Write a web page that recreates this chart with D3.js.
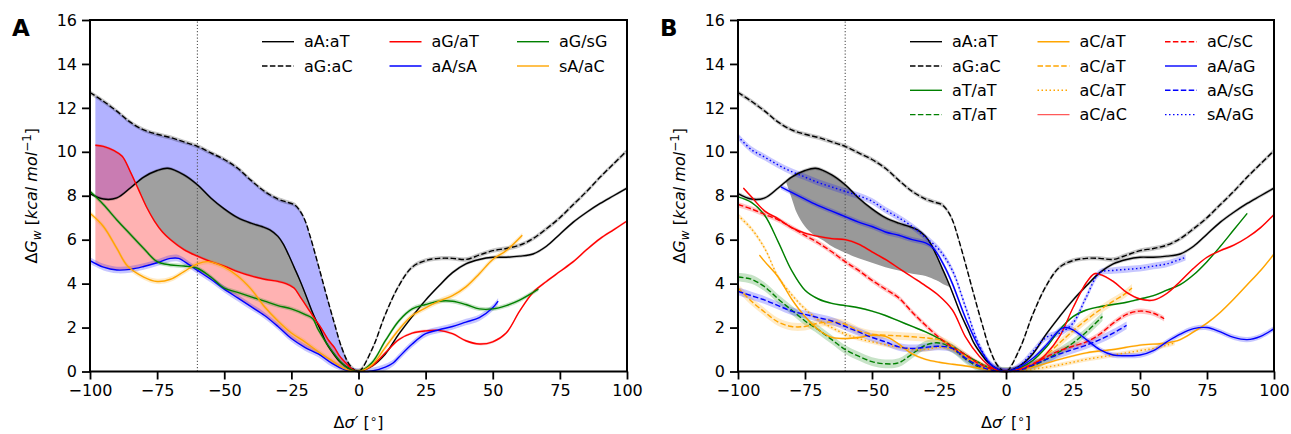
<!DOCTYPE html>
<html>
<head>
<meta charset="utf-8">
<script src="https://cdn.jsdelivr.net/npm/d3@7"></script>
<style>
  body { margin: 0; background: #fff; }
  text { font-family: "DejaVu Sans", sans-serif; fill: #000; }
</style>
</head>
<body>
<div id="output"></div>
<script>
    var width = 1291, height = 434;

    var xTicks = [-100, -75, -50, -25, 0, 25, 50, 75, 100];
    var yTicks = [0, 2, 4, 6, 8, 10, 12, 14, 16];
    var markerX = -60;

    // shared by both panels
    var aAaT = [[-100,8.1],[-95,7.85],[-90,7.9],[-85,8.35],[-80,8.85],[-75,9.15],[-71,9.25],[-65,8.95],[-60,8.5],[-55,7.9],[-50,7.4],[-45,7.0],[-40,6.75],[-36,6.6],[-33,6.45],[-30,6.15],[-28,5.8],[-26,5.3],[-24,4.75],[-22,4.2],[-20,3.6],[-17,2.65],[-14,1.85],[-12,1.3],[-9,0.75],[-7,0.45],[-5,0.25],[-3,0.1],[0,0],[5,0.25],[10,0.8],[15,1.7],[20,2.5],[25,3.25],[30,3.9],[35,4.5],[40,4.9],[45,5.1],[50,5.2],[55,5.2],[60,5.25],[65,5.35],[70,5.7],[75,6.25],[80,6.8],[85,7.25],[90,7.65],[95,8.0],[100,8.35]];
    var aGaC = [[-100,12.7],[-95,12.3],[-90,11.85],[-85,11.35],[-80,11.0],[-75,10.8],[-70,10.65],[-65,10.45],[-60,10.25],[-55,9.95],[-50,9.65],[-45,9.25],[-40,8.7],[-35,8.2],[-30,7.85],[-27,7.72],[-24,7.6],[-22,7.35],[-20,6.9],[-18,6.15],[-15,4.85],[-12,3.5],[-9,2.2],[-6,1.0],[-3,0.25],[0,0],[5,1.0],[10,2.6],[15,3.9],[20,4.75],[25,5.05],[30,5.15],[35,5.15],[40,5.1],[45,5.3],[50,5.5],[55,5.6],[60,5.75],[65,6.05],[70,6.5],[75,7.0],[80,7.6],[85,8.2],[90,8.85],[95,9.45],[100,10.05]];

    // panel A
    var aGaT = [[-98,10.3],[-95,10.25],[-91,10.05],[-88,9.8],[-85,9.1],[-82,8.3],[-79,7.5],[-76,6.85],[-73,6.35],[-70,6.0],[-65,5.55],[-60,5.25],[-55,5.0],[-50,4.8],[-45,4.55],[-40,4.35],[-35,4.2],[-30,4.1],[-27,4.0],[-24,3.8],[-22,3.45],[-19,2.9],[-16,2.35],[-14,2.0],[-11,1.4],[-9,1.1],[-7,0.7],[-4,0.3],[-2,0.08],[0,0],[5,0.25],[10,0.85],[15,1.45],[20,1.75],[25,1.85],[30,1.87],[35,1.72],[40,1.4],[45,1.25],[50,1.35],[55,1.75],[60,2.75],[65,3.6],[70,4.1],[75,4.55],[80,5.0],[85,5.55],[90,6.05],[95,6.45],[100,6.85]];
    var aAsA = [[-100,5.05],[-95,4.75],[-90,4.62],[-85,4.65],[-80,4.78],[-75,4.95],[-70,5.15],[-67,5.15],[-63,4.85],[-60,4.6],[-55,4.2],[-50,3.75],[-45,3.35],[-40,2.95],[-35,2.55],[-30,2.05],[-25,1.5],[-20,1.1],[-15,0.8],[-10,0.38],[-5,0.08],[0,0],[5,0.02],[10,0.2],[13,0.4],[15,0.65],[20,1.25],[25,1.72],[30,1.9],[35,2.05],[40,2.25],[45,2.45],[50,2.9],[52,3.2]];
    var aGsG = [[-100,8.2],[-95,7.6],[-90,6.9],[-85,6.25],[-80,5.6],[-75,5.0],[-70,4.85],[-65,4.8],[-60,4.7],[-55,4.3],[-50,3.8],[-45,3.6],[-40,3.4],[-35,3.2],[-30,3.0],[-25,2.85],[-20,2.6],[-17,2.4],[-15,1.9],[-10,0.95],[-5,0.25],[0,0],[5,0.4],[10,1.4],[15,2.3],[20,2.85],[25,3.05],[30,3.2],[35,3.2],[40,3.05],[45,2.85],[50,2.85],[55,3.0],[60,3.25],[67,3.75]];
    var sAaC = [[-100,7.2],[-95,6.6],[-90,5.6],[-86,4.8],[-80,4.3],[-75,4.1],[-70,4.2],[-65,4.55],[-60,4.9],[-56,5.0],[-50,4.75],[-45,4.35],[-40,3.75],[-35,2.95],[-30,2.3],[-25,1.75],[-20,1.35],[-15,0.9],[-10,0.5],[-5,0.12],[0,0],[5,0.3],[10,1.1],[15,1.9],[20,2.55],[25,2.9],[30,3.2],[35,3.45],[40,3.85],[45,4.45],[50,5.1],[55,5.5],[61,6.2]];

    // panel B
    var aTaT = [[-100,7.95],[-95,7.7],[-90,7.1],[-85,5.9],[-80,4.6],[-75,3.7],[-70,3.3],[-65,3.1],[-60,3.0],[-55,2.9],[-50,2.75],[-45,2.55],[-40,2.3],[-35,2.05],[-30,1.8],[-25,1.5],[-20,1.15],[-15,0.75],[-10,0.4],[-5,0.1],[0,0],[5,0.15],[10,0.5],[15,1.1],[20,1.9],[25,2.5],[30,2.8],[35,2.95],[40,3.05],[45,3.15],[50,3.3],[55,3.45],[60,3.7],[65,3.95],[70,4.4],[75,5.0],[80,5.7],[85,6.45],[90,7.2]];
    var aTaTdash = [[-100,4.3],[-95,4.2],[-90,3.85],[-85,3.3],[-80,2.8],[-75,2.3],[-70,1.9],[-65,1.45],[-60,1.0],[-55,0.7],[-50,0.45],[-45,0.35],[-40,0.4],[-35,0.8],[-30,1.2],[-25,1.3],[-20,1.05],[-15,0.55],[-10,0.2],[-5,0.05],[0,0],[5,0.05],[10,0.25],[15,0.55],[20,0.9],[25,1.3],[30,1.8],[36,2.5]];
    var aCaT = [[-92,5.3],[-90,5.0],[-85,4.3],[-80,3.3],[-75,2.5],[-70,1.9],[-65,1.55],[-60,1.5],[-55,1.55],[-50,1.65],[-45,1.6],[-40,1.25],[-35,0.8],[-30,0.55],[-25,0.42],[-20,0.33],[-15,0.25],[-10,0.15],[-5,0.05],[0,0],[10,0.2],[20,0.55],[30,0.85],[40,1.0],[50,1.2],[60,1.3],[65,1.45],[70,1.8],[75,2.2],[80,2.7],[85,3.3],[90,3.95],[95,4.6],[100,5.35]];
    var aCaTdash = [[-100,3.8],[-95,3.2],[-90,2.7],[-85,2.25],[-80,2.05],[-75,2.05],[-70,2.2],[-65,2.25],[-60,2.15],[-55,1.85],[-50,1.7],[-45,1.65],[-40,1.62],[-35,1.58],[-30,1.53],[-25,1.45],[-20,1.15],[-15,0.7],[-10,0.25],[-5,0.05],[0,0],[5,0.1],[10,0.35],[15,0.75],[20,1.3],[25,1.85],[30,2.35],[35,2.8],[40,3.2],[44,3.5],[47,3.8]];
    var aCaTdot = [[-100,7.1],[-95,6.5],[-90,5.6],[-85,4.3],[-80,3.5],[-75,2.85],[-70,2.35],[-65,2.0],[-60,1.7],[-55,1.5],[-50,1.35],[-45,1.22],[-40,1.1],[-35,1.0],[-30,1.0],[-25,1.1],[-20,1.0],[-15,0.6],[-10,0.4],[-5,0.1],[0,0],[5,0.02],[10,0.1],[20,0.3],[30,0.55],[40,0.75],[50,0.95],[55,1.05],[60,1.2],[63,1.3]];
    var aCaC = [[-98,8.35],[-95,7.95],[-90,7.3],[-85,6.95],[-80,6.55],[-75,6.3],[-70,6.15],[-65,6.05],[-60,6.0],[-55,5.8],[-50,5.45],[-45,5.1],[-40,4.7],[-35,4.3],[-30,3.9],[-25,3.45],[-20,2.8],[-15,1.55],[-10,0.7],[-5,0.15],[0,0],[5,0.1],[10,0.3],[15,0.8],[20,1.6],[25,2.9],[30,4.05],[33,4.45],[35,4.42],[40,4.1],[45,3.6],[50,3.3],[55,3.25],[60,3.55],[65,4.1],[70,4.7],[75,5.2],[80,5.5],[85,5.75],[90,6.1],[95,6.55],[100,7.15]];
    var aCsC = [[-100,7.6],[-95,7.4],[-90,7.15],[-85,6.9],[-80,6.55],[-75,6.2],[-70,5.85],[-65,5.45],[-60,5.0],[-55,4.6],[-50,4.15],[-45,3.75],[-40,3.35],[-35,2.7],[-30,2.1],[-25,1.55],[-20,1.1],[-15,0.75],[-10,0.35],[-5,0.1],[0,0],[5,0.1],[10,0.35],[15,0.65],[20,0.95],[25,1.15],[30,1.35],[35,1.7],[40,2.2],[45,2.6],[50,2.75],[55,2.65],[59,2.4]];
    var aAaG = [[-84,8.4],[-80,8.15],[-75,7.85],[-70,7.55],[-65,7.3],[-60,7.05],[-55,6.8],[-50,6.6],[-45,6.35],[-40,6.2],[-35,6.0],[-30,5.85],[-27,5.6],[-23,4.8],[-20,4.0],[-15,2.4],[-10,1.1],[-5,0.25],[0,0],[5,0.2],[10,0.6],[15,1.2],[20,1.9],[22,2.0],[25,1.9],[30,1.45],[35,1.0],[40,0.75],[45,0.72],[50,0.75],[55,0.95],[60,1.35],[65,1.7],[70,1.95],[75,2.0],[80,1.8],[85,1.55],[90,1.45],[95,1.6],[100,1.95]];
    var aAsG = [[-100,3.65],[-95,3.45],[-90,3.25],[-85,3.0],[-80,2.75],[-75,2.6],[-70,2.45],[-65,2.3],[-60,2.05],[-55,1.8],[-50,1.55],[-45,1.35],[-40,1.12],[-35,1.05],[-30,1.1],[-25,1.15],[-20,1.05],[-15,0.6],[-10,0.25],[-5,0.05],[0,0],[5,0.05],[10,0.3],[15,0.55],[20,0.8],[25,1.0],[30,1.2],[35,1.45],[40,1.75],[45,2.1]];
    var sAaG = [[-100,10.7],[-95,10.1],[-90,9.75],[-85,9.4],[-80,9.1],[-75,8.85],[-70,8.6],[-65,8.4],[-60,8.2],[-55,8.0],[-50,7.75],[-45,7.35],[-40,7.0],[-35,6.6],[-30,6.1],[-25,5.55],[-20,4.6],[-15,2.9],[-10,1.2],[-5,0.25],[0,0],[5,0.25],[10,0.9],[15,1.55],[20,1.75],[25,2.2],[30,3.4],[35,4.5],[40,4.6],[45,4.65],[50,4.7],[55,4.8],[60,4.9],[67,5.2]];
    // lower edge of the grey region in B (upper edge is aA:aT)
    var greyLowB = [[-82,8.6],[-80,7.9],[-78,7.2],[-75,6.6],[-72,6.25],[-68,5.95],[-65,5.7],[-60,5.4],[-55,5.15],[-50,4.95],[-45,4.75],[-40,4.6],[-35,4.45],[-30,4.35],[-26,4.15],[-23,3.95],[-21,3.85]];

    var seriesA = [
        {name: 'aA:aT', data: aAaT, color: 'black', dash: null, err: 0.07},
        {name: 'aG:aC', data: aGaC, color: 'black', dash: 'dash', err: 0.1},
        {name: 'aG/aT', data: aGaT, color: '#ff0000', dash: null, err: 0.06},
        {name: 'aA/sA', data: aAsA, color: '#0000ff', dash: null, err: 0.15},
        {name: 'aG/sG', data: aGsG, color: '#008000', dash: null, err: 0.1},
        {name: 'sA/aC', data: sAaC, color: '#ffa500', dash: null, err: 0.12}
    ];
    var seriesB = [
        {name: 'aA:aT', data: aAaT, color: 'black', dash: null, err: 0.08},
        {name: 'aG:aC', data: aGaC, color: 'black', dash: 'dash', err: 0.1},
        {name: 'aT/aT', data: aTaT, color: '#008000', dash: null, err: 0.04},
        {name: 'aT/aT', data: aTaTdash, color: '#008000', dash: 'dash', err: 0.2},
        {name: 'aC/aT', data: aCaT, color: '#ffa500', dash: null, err: 0.05},
        {name: 'aC/aT', data: aCaTdash, color: '#ffa500', dash: 'dash', err: 0.18},
        {name: 'aC/aT', data: aCaTdot, color: '#ffa500', dash: 'dot', err: 0.1},
        {name: 'aC/aC', data: aCaC, color: '#ff0000', dash: null, err: 0.05, legendOpacity: 0.65},
        {name: 'aC/sC', data: aCsC, color: '#ff0000', dash: 'dash', err: 0.12},
        {name: 'aA/aG', data: aAaG, color: '#0000ff', dash: null, err: 0.12},
        {name: 'aA/sG', data: aAsG, color: '#0000ff', dash: 'dash', err: 0.18},
        {name: 'sA/aG', data: sAaG, color: '#0000ff', dash: 'dot', err: 0.15}
    ];

    var dashes = {dash: '5.5,2.4', dot: '1.5,2.5'};

    var svg = d3.select('#output').append('svg')
        .attr('width', width)
        .attr('height', height);

    var interp = function(pts, xv) {
        for (var i = 0; i < pts.length - 1; i++) {
            var a = pts[i], b = pts[i + 1];
            if (xv >= a[0] && xv <= b[0]) {
                return a[1] + (b[1] - a[1]) * (xv - a[0]) / (b[0] - a[0]);
            }
        }
        return xv < pts[0][0] ? pts[0][1] : pts[pts.length - 1][1];
    };

    var clip = function(pts, x0, x1) {
        var out = [[x0, interp(pts, x0)]];
        pts.forEach(p => { if (p[0] > x0 && p[0] < x1) out.push(p); });
        out.push([x1, interp(pts, x1)]);
        return out;
    };

    var crossing = function(a, b, lo, hi) {
        var f = xv => interp(a, xv) - interp(b, xv);
        var flo = f(lo);
        for (var i = 0; i < 40; i++) {
            var mid = (lo + hi) / 2;
            if ((f(mid) > 0) === (flo > 0)) { lo = mid; } else { hi = mid; }
        }
        return (lo + hi) / 2;
    };

    var drawPanel = function(left, right, letter, series, fills, legendCols) {
        var top = 20, bottom = 371.5;
        var x = d3.scaleLinear().domain([-100, 100]).range([left, right]);
        var y = d3.scaleLinear().domain([0, 16]).range([bottom, top]);
        var g = svg.append('g');

        var line = d3.line()
            .x(d => x(d[0])).y(d => y(d[1]))
            .curve(d3.curveCatmullRom.alpha(0.5));

        var band = err => d3.area()
            .x(d => x(d[0]))
            .y0(d => y(Math.max(0, d[1] - err)))
            .y1(d => y(d[1] + err))
            .curve(d3.curveCatmullRom.alpha(0.5));

        var between = function(upper, lower, x0, x1) {
            var up = clip(upper, x0, x1);
            var lo = clip(lower, x0, x1).reverse();
            return line(up) + line(lo).replace(/^M/, 'L') + 'Z';
        };

        // filled regions
        fills.forEach(f => {
            g.append('path')
                .attr('d', between(f.upper, f.lower, f.x0, f.x1))
                .attr('fill', f.color)
                .attr('fill-opacity', f.opacity)
                .attr('stroke', 'none');
        });

        // reference line
        g.append('line')
            .attr('x1', x(markerX)).attr('x2', x(markerX))
            .attr('y1', y(0)).attr('y2', y(16))
            .attr('stroke', '#555')
            .attr('stroke-width', 1.1)
            .attr('stroke-dasharray', '1.2,2');

        // uncertainty bands
        series.forEach(s => {
            g.append('path')
                .attr('d', band(s.err)(s.data))
                .attr('fill', s.color)
                .attr('fill-opacity', 0.22)
                .attr('stroke', 'none');
        });

        // curves
        series.forEach(s => {
            g.append('path')
                .attr('d', line(s.data))
                .attr('fill', 'none')
                .attr('stroke', s.color)
                .attr('stroke-width', 1.4)
                .attr('stroke-dasharray', s.dash ? dashes[s.dash] : null);
        });

        // axes
        var xAxis = d3.axisBottom(x).tickValues(xTicks).tickSize(8).tickPadding(5)
            .tickFormat(d => d < 0 ? '\u2212' + Math.abs(d) : d);
        var yAxis = d3.axisLeft(y).tickValues(yTicks).tickSize(8).tickPadding(5);

        var gx = g.append('g').attr('transform', 'translate(0,' + bottom + ')').call(xAxis);
        var gy = g.append('g').attr('transform', 'translate(' + left + ',0)').call(yAxis);
        [gx, gy].forEach(ax => {
            ax.select('.domain').remove();
            ax.selectAll('line').attr('stroke', 'black').attr('stroke-width', 1.8);
            ax.selectAll('text').style('font-size', '16px').attr('font-family', 'DejaVu Sans');
        });

        g.append('rect')
            .attr('x', left).attr('y', top)
            .attr('width', right - left).attr('height', bottom - top)
            .attr('fill', 'none').attr('stroke', 'black').attr('stroke-width', 2);

        // axis labels
        var xl = g.append('text')
            .attr('x', (left + right) / 2).attr('y', 428)
            .attr('text-anchor', 'middle').style('font-size', '16px');
        xl.append('tspan').text('\u0394');
        xl.append('tspan').attr('font-style', 'italic').text('\u03c3\u2032');
        xl.append('tspan').text(' [');
        xl.append('tspan').attr('dy', -5).style('font-size', '12px').text('\u2218');
        xl.append('tspan').attr('dy', 5).text(']');

        var yl = g.append('text')
            .attr('transform', 'translate(' + (left - 53) + ',' + ((top + bottom) / 2) + ') rotate(-90)')
            .attr('text-anchor', 'middle').style('font-size', '16px');
        yl.append('tspan').text('\u0394');
        yl.append('tspan').attr('font-style', 'italic').text('G');
        yl.append('tspan').attr('font-style', 'italic').attr('dy', 4).style('font-size', '12px').text('w');
        yl.append('tspan').attr('dy', -4).text(' [');
        yl.append('tspan').attr('font-style', 'italic').text('kcal mol');
        yl.append('tspan').attr('dy', -6).style('font-size', '12px').text('\u22121');
        yl.append('tspan').attr('dy', 6).text(']');

        g.append('text')
            .attr('x', left - 78).attr('y', 36)
            .style('font-size', '23px').style('font-weight', 'bold')
            .text(letter);

        // legend, filled column by column
        var rows = Math.ceil(series.length / legendCols);
        series.forEach((s, i) => {
            var col = Math.floor(i / rows), row = i % rows;
            var lx = left + 172 + col * 127.5;
            var ly = top + 21.7 + row * 24.3;
            g.append('line')
                .attr('x1', lx).attr('x2', lx + 32)
                .attr('y1', ly).attr('y2', ly)
                .attr('stroke', s.color)
                .attr('stroke-opacity', s.legendOpacity || 1)
                .attr('stroke-width', 1.4)
                .attr('stroke-dasharray', s.dash ? dashes[s.dash] : null);
            g.append('text')
                .attr('x', lx + 42).attr('y', ly).attr('dy', '0.36em')
                .style('font-size', '16px')
                .text(s.name);
        });
    };

    var fillsA = [
        {upper: aGaC, lower: aAaT, x0: -98, x1: 0, color: '#0000ff', opacity: 0.3},
        {upper: aGaT, lower: aAsA, x0: -98, x1: 0, color: '#ff0000', opacity: 0.3},
        {upper: aAaT, lower: aGaT, x0: crossing(aAaT, aGaT, -95, -75), x1: crossing(aAaT, aGaT, -25, -10), color: '#a0a0a0', opacity: 1}
    ];
    var fillsB = [
        {upper: aAaT, lower: greyLowB, x0: -82, x1: -21, color: '#999999', opacity: 1}
    ];

    drawPanel(90, 627, 'A', seriesA, fillsA, 3);
    drawPanel(738, 1274, 'B', seriesB, fillsB, 3);
</script>
</body>
</html>
